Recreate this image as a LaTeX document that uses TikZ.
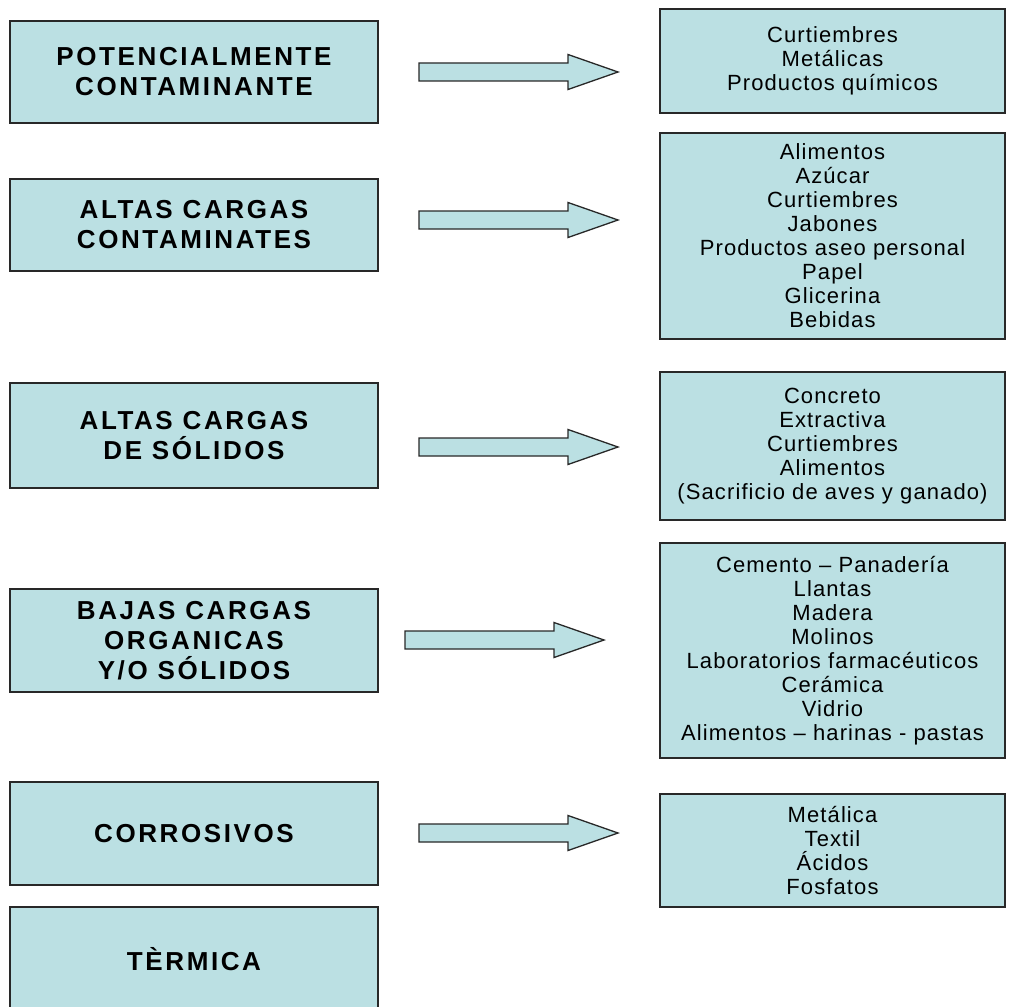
\documentclass[tikz,border=0pt]{standalone}
\usepackage{fontspec}
\setmainfont{Liberation Sans}
\newfontfamily\leftfont[LetterSpace=10]{Liberation Sans}
\newfontfamily\rightfont[LetterSpace=5]{Liberation Sans}
\definecolor{boxfill}{RGB}{187,224,227}
\definecolor{boxline}{RGB}{40,40,40}
\tikzset{
  catbox/.style={draw=boxline, line width=1.4pt, fill=boxfill, rectangle,
    minimum width=368pt, align=center, inner sep=0pt,
    font=\leftfont\bfseries\fontsize{26}{30}\selectfont},
  listbox/.style={draw=boxline, line width=1.4pt, fill=boxfill, rectangle,
    minimum width=345pt, align=center, inner sep=0pt,
    font=\rightfont\fontsize{22}{24}\selectfont},
  blockarrow/.style={draw=boxline, line width=1.3pt, fill=boxfill, line join=miter}
}
\begin{document}
\begin{tikzpicture}[x=1pt,y=-1pt]
\useasboundingbox (0,0) rectangle (1016,1006);
\fill[white] (0,0) rectangle (1016,1006);

% left category boxes
\node[catbox, minimum height=102pt] (b1) at (194,72) {POTENCIALMENTE\\CONTAMINANTE};
\node[catbox, minimum height=92pt] (b2) at (194,225) {ALTAS CARGAS\\CONTAMINATES};
\node[catbox, minimum height=105pt] (b3) at (194,435.5) {ALTAS CARGAS\\DE SÓLIDOS};
\node[catbox, minimum height=103pt] (b4) at (194,640.5) {BAJAS CARGAS\\ORGANICAS\\Y/O SÓLIDOS};
\node[catbox, minimum height=103pt] (b5) at (194,833.5) {CORROSIVOS};
\node[catbox, minimum height=104pt] (b6) at (194,959) {TÈRMICA};

% right list boxes
\node[listbox, minimum height=104pt] (r1) at (832.5,61) {Curtiembres\\Metálicas\\Productos químicos};
\node[listbox, minimum height=206pt] (r2) at (832.5,236) {Alimentos\\Azúcar\\Curtiembres\\Jabones\\Productos aseo personal\\Papel\\Glicerina\\Bebidas};
\node[listbox, minimum height=148pt] (r3) at (832.5,446) {Concreto\\Extractiva\\Curtiembres\\Alimentos\\(Sacrificio de aves y ganado)};
\node[listbox, minimum height=215pt] (r4) at (832.5,650.5) {Cemento – Panadería\\Llantas\\Madera\\Molinos\\Laboratorios farmacéuticos\\Cerámica\\Vidrio\\Alimentos – harinas - pastas};
\node[listbox, minimum height=113pt] (r5) at (832.5,850.5) {Metálica\\Textil\\Ácidos\\Fosfatos};

% block arrows
\foreach \ax/\ay in {419/72, 419/220, 419/447, 405/640, 419/833}{
  \draw[blockarrow] (\ax,\ay-9) -- ++(149,0) -- ++(0,-8.5) -- ++(50,17.5)
    -- ++(-50,17.5) -- ++(0,-8.5) -- ++(-149,0) -- cycle;
}
\end{tikzpicture}
\end{document}
